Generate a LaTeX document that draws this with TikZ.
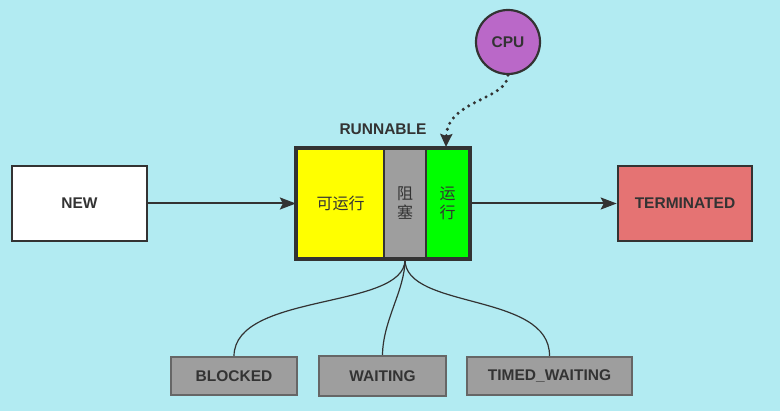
\documentclass[tikz,border=0pt]{standalone}
\usepackage{fontspec}
\setmainfont{Liberation Sans}
\newfontfamily\cjk{Noto Sans CJK SC}
\usepackage{xcolor}
\usetikzlibrary{arrows.meta,positioning,calc}
\definecolor{bg}{HTML}{B2EBF2}
\definecolor{ink}{HTML}{333333}
\definecolor{grayln}{HTML}{666666}
\definecolor{grayfill}{HTML}{9E9E9E}
\definecolor{yel}{HTML}{FFFF00}
\definecolor{grn}{HTML}{00FF00}
\definecolor{term}{HTML}{E57373}
\definecolor{cpu}{HTML}{BA68C8}
\tikzset{
  box/.style ={draw=ink, rectangle, line width=2.6pt, align=center, inner sep=0pt,
               font=\fontsize{15.5}{17}\selectfont\bfseries, text=ink},
  part/.style={draw=ink, rectangle, line width=2.2pt, align=center, inner sep=0pt,
               minimum height=110, font=\cjk\fontsize{16}{19}\selectfont, text=ink},
  sub/.style ={box, draw=grayln, fill=grayfill, line width=2.4pt},
  ar/.style  ={-{Stealth[length=16pt,width=12pt,inset=3pt]}, line width=2pt, draw=ink},
  dots/.style={draw=ink, line width=3.4pt, line cap=round, dash pattern=on 0pt off 6.5pt,
               -{Stealth[length=13pt,width=12pt,inset=2pt,line cap=butt]}},
  ln/.style  ={line width=1.2pt, draw=ink},
}
\begin{document}
\begin{tikzpicture}[x=1pt,y=-1pt]
\fill[bg] (0,0) rectangle (780,411);
\useasboundingbox (0,0) rectangle (780,411);
\node[box, fill=white, minimum width=135, minimum height=75] (new) at (79.5,203.5) {NEW};
\node[part, fill=yel, minimum width=87] (ready) at (340.5,203.5) {可运行};
\node[part, fill=grayfill, minimum width=42] (blk) at (405,203.5) {阻\\塞};
\node[part, fill=grn, minimum width=43] (run) at (447.5,203.5) {运\\行};
\draw[ink, line width=3pt] (ready.north west) rectangle (run.south east);
\node[font=\fontsize{15.5}{17}\selectfont\bfseries, text=ink] (lbl) at (383,129) {RUNNABLE};
\node[box, fill=term, minimum width=134, minimum height=75] (term) at (685,203.5) {TERMINATED};
\node[box, circle, fill=cpu, minimum size=64, line width=2.2pt] (cpu) at (508,42) {CPU};
\draw[ar] (new.east) -- (ready.west);
\draw[ar] (run.east) -- (term.west);
\draw[dots] (cpu.south) .. controls (507,100) and (447,100) .. (446,147);
\node[sub, minimum width=126, minimum height=38] (blocked) at (234,376) {BLOCKED};
\node[sub, minimum width=127, minimum height=40] (waiting) at (382.5,376) {WAITING};
\node[sub, minimum width=165, minimum height=38] (timed) at (549.5,376) {TIMED\_WAITING};
\draw[ln] (blk.south) .. controls (405,310) and (235,292) .. (blocked.north);
\draw[ln] (blk.south) .. controls (405,290) and (383,320) .. (waiting.north);
\draw[ln] (blk.south) .. controls (405,310) and (550,292) .. (timed.north);
\end{tikzpicture}
\end{document}
